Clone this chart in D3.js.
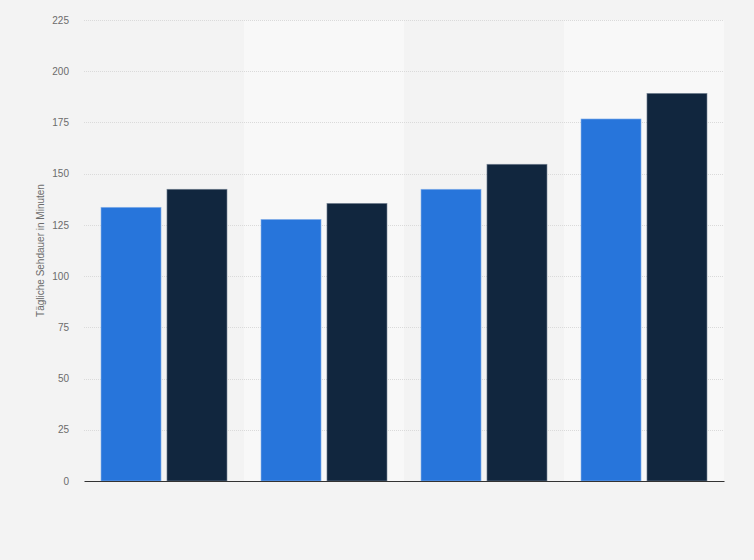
<!DOCTYPE html>
<html>
<head>
<meta charset="utf-8">
<script src="https://cdn.jsdelivr.net/npm/d3@7"></script>
<style>
  body { margin: 0; background: #f3f3f3; }
  #chart { width: 754px; height: 560px; }
</style>
</head>
<body>
<div id="chart"></div>
<script>
// values (x labels are not shown in the reference)
const categories = ['1', '2', '3', '4'];
const seriesA = [133.6, 127.7, 142.4, 176.7];
const seriesB = [142.4, 135.5, 154.6, 189.2];
const yTicks = [0, 25, 50, 75, 100, 125, 150, 175, 200, 225];

const width = 754, height = 560;
const margin = {top: 20, right: 30, bottom: 79, left: 84};
const innerW = width - margin.left - margin.right;
const innerH = height - margin.top - margin.bottom;

const svg = d3.select('#chart')
    .append('svg')
    .attr('width', width)
    .attr('height', height)
    .style('font-family', 'Arial, "Liberation Sans", sans-serif');

svg.append('rect')
    .attr('width', width)
    .attr('height', height)
    .attr('fill', '#f3f3f3');

const g = svg.append('g')
    .attr('transform', `translate(${margin.left},${margin.top})`);

const x = d3.scaleBand()
    .domain(categories)
    .range([0, innerW]);

const x1 = d3.scaleBand()
    .domain(['a', 'b'])
    .range([17, x.bandwidth() - 17])
    .paddingInner(0.09);

const y = d3.scaleLinear()
    .domain([0, 225])
    .range([innerH, 0]);

// alternating bands
g.selectAll('rect.band')
    .data(categories.filter((d, i) => i % 2 === 1))
    .enter()
    .append('rect')
    .attr('class', 'band')
    .attr('x', d => x(d))
    .attr('y', 0)
    .attr('width', x.bandwidth())
    .attr('height', innerH)
    .attr('fill', '#f8f8f8');

// grid lines
g.selectAll('line.grid')
    .data(yTicks.filter(d => d > 0))
    .enter()
    .append('line')
    .attr('class', 'grid')
    .attr('x1', 0)
    .attr('x2', innerW)
    .attr('y1', d => Math.round(y(d)) + 0.5)
    .attr('y2', d => Math.round(y(d)) + 0.5)
    .attr('stroke', '#dadada')
    .attr('stroke-width', 1)
    .attr('stroke-dasharray', '1,1');

// y axis labels
const yAxis = d3.axisLeft(y)
    .tickValues(yTicks)
    .tickSize(0)
    .tickPadding(15);

const ya = g.append('g').call(yAxis);
ya.select('.domain').remove();
ya.selectAll('text')
    .attr('fill', '#6b6b6b')
    .style('font-size', '10px');

// bars
const groups = g.selectAll('g.cat')
    .data(categories)
    .enter()
    .append('g')
    .attr('transform', d => `translate(${x(d)},0)`);

groups.append('rect')
    .attr('x', x1('a'))
    .attr('y', (d, i) => y(seriesA[i]))
    .attr('width', x1.bandwidth())
    .attr('height', (d, i) => innerH - y(seriesA[i]))
    .attr('fill', '#2775db')
    .attr('stroke', '#8fb6ea')
    .attr('stroke-width', 0.6);

groups.append('rect')
    .attr('x', x1('b'))
    .attr('y', (d, i) => y(seriesB[i]))
    .attr('width', x1.bandwidth())
    .attr('height', (d, i) => innerH - y(seriesB[i]))
    .attr('fill', '#11263e')
    .attr('stroke', '#7a8898')
    .attr('stroke-width', 0.6);

// x axis (no labels)
const xAxis = d3.axisBottom(x).tickSize(0).tickFormat(() => '');
const xa = g.append('g')
    .attr('transform', `translate(0,${innerH})`)
    .call(xAxis);
xa.select('.domain')
    .attr('stroke', '#333')
    .attr('stroke-width', 1.2);

// y axis title
svg.append('text')
    .attr('transform', `translate(44,${margin.top + innerH / 2}) rotate(-90)`)
    .attr('text-anchor', 'middle')
    .attr('fill', '#6b6b6b')
    .style('font-size', '10px')
    .text('Tägliche Sehdauer in Minuten');
</script>
</body>
</html>
